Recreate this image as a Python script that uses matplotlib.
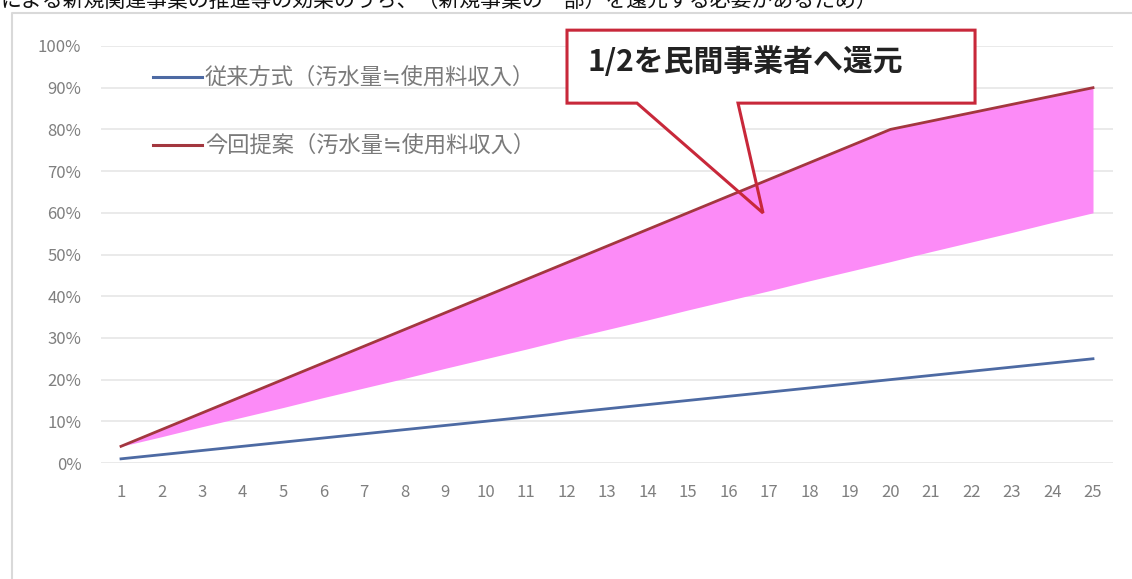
import matplotlib.pyplot as plt
from matplotlib.patches import Polygon
from matplotlib.lines import Line2D

plt.rcParams['font.family'] = ['Noto Sans CJK JP', 'DejaVu Sans']

# 年次 (1..25)
years = list(range(1, 26))
# 従来方式 (%)
conventional = [1, 2, 3, 4, 5, 6, 7, 8, 9, 10, 11, 12, 13, 14, 15, 16, 17, 18, 19, 20,
                21, 22, 23, 24, 25]
# 今回提案 (%)
proposal = [4, 8, 12, 16, 20, 24, 28, 32, 36, 40, 44, 48, 52, 56, 60, 64, 68, 72, 76, 80,
            82, 84, 86, 88, 90]
# 還元後の下限 (%)
returned = [4.0, 6.3, 8.7, 11.0, 13.3, 15.7, 18.0, 20.3, 22.7, 25.0, 27.3, 29.7, 32.0,
            34.3, 36.7, 39.0, 41.3, 43.7, 46.0, 48.3, 50.7, 53.0, 55.3, 57.7, 60.0]
y_ticks = [0, 10, 20, 30, 40, 50, 60, 70, 80, 90, 100]
label_conventional = '従来方式（汚水量≒使用料収入）'
label_proposal = '今回提案（汚水量≒使用料収入）'
callout_text = '1/2を民間事業者へ還元'
header_text = 'による新規関連事業の推進等の効果のうち、（新規事業の一部）を還元する必要があるため）'

fig = plt.figure(figsize=(11.32, 5.79), dpi=100)
ax = fig.add_axes([100.75 / 1132, 1 - 463 / 579, 1012.5 / 1132, 417 / 579])

ax.set_xlim(0.5, 25.5)
ax.set_ylim(0, 100)
ax.set_yticks(y_ticks)
ax.set_yticklabels([f'{v}%' for v in y_ticks])
ax.set_xticks(years)
ax.tick_params(axis='both', length=0, colors='#7f7f7f', labelsize=12)
ax.tick_params(axis='x', pad=15)
ax.tick_params(axis='y', pad=14)
for s in ax.spines.values():
    s.set_visible(False)
ax.grid(axis='y', color='#e6e6e6', linewidth=1.2, zorder=0)
ax.set_axisbelow(True)

# shaded band between proposal and returned share
ax.fill_between(years, returned, proposal, color='#fc8bf7', linewidth=0, zorder=3)
ax.plot(years, conventional, color='#4d6aa3', linewidth=2, zorder=4)
ax.plot(years, proposal, color='#a3373f', linewidth=2, zorder=4)

# legend drawn inside the plot area
for ly, col, lab in [(0.925, '#4d6aa3', label_conventional), (0.762, '#a3373f', label_proposal)]:
    ax.add_line(Line2D([0.052, 0.1], [ly, ly], transform=ax.transAxes, color=col,
                       linewidth=2.2, clip_on=False))
    ax.text(0.103, ly, lab, transform=ax.transAxes, fontsize=16, color='#7a7a7a',
            va='center', ha='left')

# callout box
callout = [(0.4605, 1.038), (0.8635, 1.038), (0.8635, 0.863), (0.6294, 0.863),
           (0.6541, 0.5995), (0.5296, 0.863), (0.4605, 0.863)]
ax.add_patch(Polygon(callout, closed=True, transform=ax.transAxes, facecolor='white',
                     edgecolor='none', clip_on=False, zorder=2))
ax.add_patch(Polygon(callout, closed=True, transform=ax.transAxes, facecolor='none',
                     edgecolor='#c8283a', linewidth=2.2, joinstyle='miter',
                     clip_on=False, zorder=6))
ax.text(0.481, 0.963, callout_text, transform=ax.transAxes, fontsize=21.5,
        fontweight='bold', color='#222222', va='center', ha='left', zorder=7)

# chart frame (top and left edges)
fig.add_artist(Line2D([12 / 1132, 12 / 1132, 1], [0, 1 - 13 / 579, 1 - 13 / 579],
                      transform=fig.transFigure, color='#d9d9d9', linewidth=1.5))

fig.text(0.0, 1 - 1 / 579, header_text, fontsize=15, color='#111111', va='center',
         ha='left')

fig.savefig('out.png', dpi=100, facecolor='white')
